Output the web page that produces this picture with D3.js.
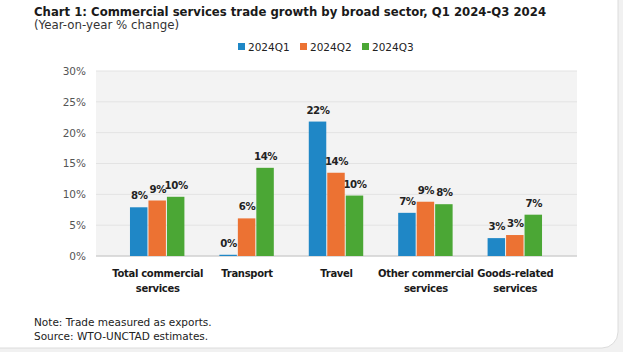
<!DOCTYPE html>
<html>
<head>
<meta charset="utf-8">
<script src="https://cdn.jsdelivr.net/npm/d3@7"></script>
<style>
  body { margin: 0; background: #f1f1f1; }
  svg { display: block; }
</style>
</head>
<body>
<script>
const categories = [
  ["Total commercial", "services"],
  ["Transport"],
  ["Travel"],
  ["Other commercial", "services"],
  ["Goods-related", "services"]
];
const seriesNames = ["2024Q1", "2024Q2", "2024Q3"];
const q1 = [7.9, 0.2, 21.8, 7.0, 2.9];
const q2 = [9.0, 6.1, 13.5, 8.8, 3.4];
const q3 = [9.6, 14.3, 9.8, 8.4, 6.7];
const labelsQ1 = ["8%", "0%", "22%", "7%", "3%"];
const labelsQ2 = ["9%", "6%", "14%", "9%", "3%"];
const labelsQ3 = ["10%", "14%", "10%", "8%", "7%"];
const yTicks = [0, 5, 10, 15, 20, 25, 30];
const colors = ["#1f87c6", "#ec7233", "#4ba735"];

const W = 623, H = 352;
const svg = d3.select("body").append("svg").attr("width", W).attr("height", H);

// card
svg.append("rect")
  .attr("x", -20).attr("y", -20)
  .attr("width", 638).attr("height", 368)
  .attr("rx", 16)
  .attr("fill", "#fff")
  .attr("stroke", "#dcdcdc");

const font = "'DejaVu Sans', Verdana, sans-serif";

svg.append("text")
  .attr("x", 34).attr("y", 16)
  .attr("font-family", font).attr("font-size", 11.7).attr("font-weight", "bold")
  .attr("fill", "#1a1a1a")
  .text("Chart 1: Commercial services trade growth by broad sector, Q1 2024-Q3 2024");
svg.append("text")
  .attr("x", 34).attr("y", 29)
  .attr("font-family", font).attr("font-size", 11.8)
  .attr("fill", "#333")
  .text("(Year-on-year % change)");

const margin = { top: 71, left: 96, right: 46, bottom: 96 };
const pw = W - margin.left - margin.right;
const ph = H - margin.top - margin.bottom;

const g = svg.append("g").attr("transform", `translate(${margin.left},${margin.top})`);

const x = d3.scaleBand().domain(d3.range(categories.length)).range([0, pw]).padding(0.38);
const xs = d3.scaleBand().domain(d3.range(seriesNames.length)).range([0, x.bandwidth()]).padding(0);
const y = d3.scaleLinear().domain([0, 30]).range([ph, 0]);

g.append("rect").attr("width", pw).attr("height", ph).attr("fill", "#f3f3f3");

g.selectAll(".grid").data(yTicks).enter().append("line")
  .attr("x1", 0).attr("x2", pw)
  .attr("y1", d => y(d)).attr("y2", d => y(d))
  .attr("stroke", d => d === 0 ? "#d0d0d0" : "#e3e3e3")
  .attr("stroke-width", d => d === 0 ? 1.5 : 1);

const yAxis = g.append("g")
  .call(d3.axisLeft(y).tickValues(yTicks).tickFormat(d => d + "%").tickSize(0).tickPadding(10));
yAxis.select(".domain").remove();
yAxis.selectAll("text")
  .attr("font-family", font).attr("font-size", 10.5).attr("fill", "#555");

const values = [q1, q2, q3];
const labels = [labelsQ1, labelsQ2, labelsQ3];

values.forEach((vals, s) => {
  g.selectAll(".bar" + s).data(vals).enter().append("rect")
    .attr("x", (d, i) => x(i) + xs(s))
    .attr("y", d => y(d))
    .attr("width", xs.bandwidth() - 1)
    .attr("height", d => y(0) - y(d))
    .attr("fill", colors[s]);

  g.selectAll(".lab" + s).data(vals).enter().append("text")
    .attr("x", (d, i) => x(i) + xs(s) + xs.bandwidth() / 2)
    .attr("y", d => y(d) - 8)
    .attr("text-anchor", "middle")
    .attr("font-family", font).attr("font-size", 10.2).attr("font-weight", "bold")
    .attr("letter-spacing", -0.4)
    .attr("fill", "#222")
    .text((d, i) => labels[s][i]);
});

// category labels
const cat = g.selectAll(".cat").data(categories).enter().append("text")
  .attr("x", (d, i) => x(i) + x.bandwidth() / 2)
  .attr("y", ph + 21)
  .attr("text-anchor", "middle")
  .attr("font-family", font).attr("font-size", 10).attr("font-weight", "bold")
  .attr("letter-spacing", -0.3)
  .attr("fill", "#1a1a1a");
cat.each(function(d) {
  const t = d3.select(this);
  d.forEach((line, j) => {
    t.append("tspan")
      .attr("x", t.attr("x"))
      .attr("dy", j === 0 ? 0 : 15)
      .text(line);
  });
});

// legend
const legendX = [238, 300, 362];
const legend = svg.selectAll(".leg").data(seriesNames).enter().append("g")
  .attr("transform", (d, i) => `translate(${legendX[i]},47)`);
legend.append("rect")
  .attr("x", 0).attr("y", -4).attr("width", 7).attr("height", 7)
  .attr("fill", (d, i) => colors[i]);
legend.append("text")
  .attr("x", 10).attr("y", 4)
  .attr("font-family", font).attr("font-size", 10.5)
  .attr("fill", "#222")
  .text(d => d);

svg.append("text")
  .attr("x", 34).attr("y", 326)
  .attr("font-family", font).attr("font-size", 10.5)
  .attr("fill", "#222")
  .text("Note: Trade measured as exports.");
svg.append("text")
  .attr("x", 34).attr("y", 340)
  .attr("font-family", font).attr("font-size", 10.5)
  .attr("fill", "#222")
  .text("Source: WTO-UNCTAD estimates.");
</script>
</body>
</html>
